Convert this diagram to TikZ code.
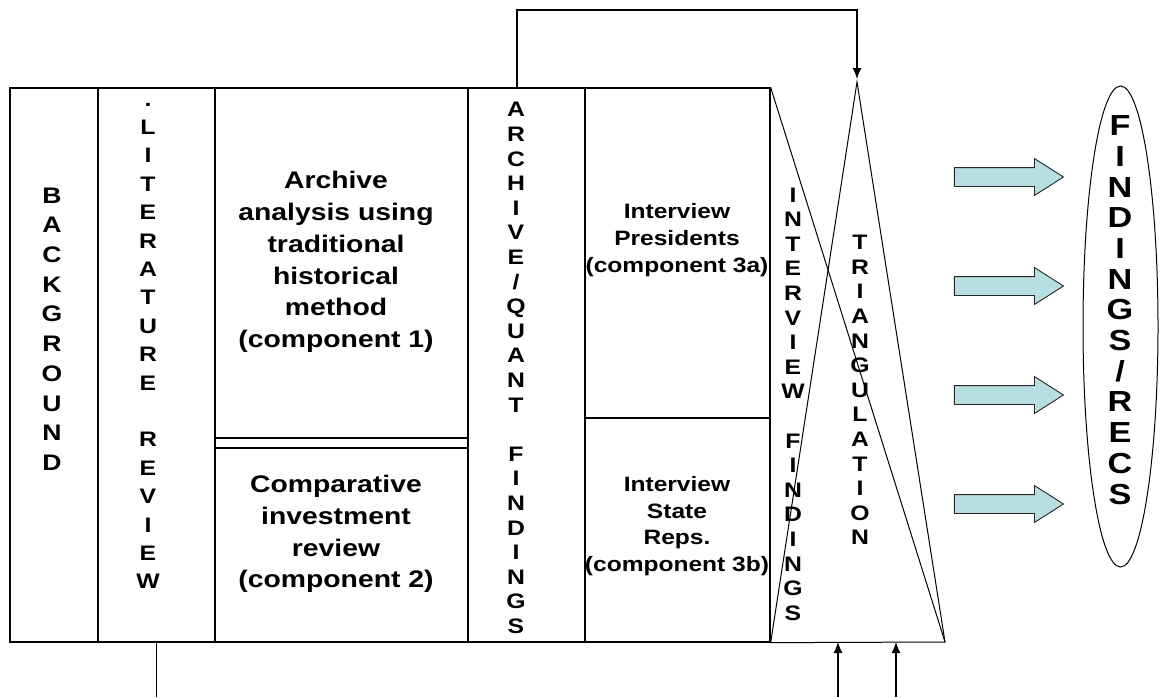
\documentclass[tikz,border=0pt]{standalone}
\usepackage{fontspec}
\setmainfont{Liberation Sans}[FakeStretch=1.18]
\usetikzlibrary{shapes.geometric,shapes.arrows,arrows.meta,positioning}
\definecolor{arrowblue}{RGB}{183,222,224}

\tikzset{
  box/.style={draw, line width=1.3pt, inner sep=0pt},
  link/.style={line width=1.2pt},
  thinline/.style={line width=1pt},
  letters/.style={align=center, inner sep=0pt, font=\bfseries\fontsize{21}{24.6}\selectfont},
  boxtext/.style={align=center, inner sep=0pt, font=\bfseries\fontsize{24}{31.7}\selectfont},
  smalltext/.style={align=center, inner sep=0pt, font=\bfseries\fontsize{20.8}{26.7}\selectfont},
  fatarrow/.style={single arrow, draw=black!85, line width=0.9pt, fill=arrowblue,
    minimum height=109pt, inner xsep=0pt, inner ysep=9pt, single arrow head extend=9pt,
    single arrow tip angle=65},
  tip/.style={-{Latex[length=11pt,width=9pt]}}
}

\begin{document}
\begin{tikzpicture}[x=1pt,y=-1pt]
    \useasboundingbox (0,0) rectangle (1161,697);

    % Columns
    \node[box, minimum width=88pt, minimum height=554pt] (bg) at (54,365) {};
    \node[box, minimum width=117pt, minimum height=554pt] (lit) at (156.5,365) {};
    \node[box, minimum width=253pt, minimum height=350pt] (comp1) at (341.5,263) {};
    \node[box, minimum width=253pt, minimum height=194pt] (comp2) at (341.5,545) {};
    \node[box, minimum width=117pt, minimum height=554pt] (arch) at (526.5,365) {};
    \node[box, minimum width=185pt, minimum height=330pt] (pres) at (677.5,253) {};
    \node[box, minimum width=185pt, minimum height=224pt] (reps) at (677.5,530) {};

    % Texts of the columns
    \node[letters, font=\bfseries\fontsize{22.5}{29.7}\selectfont] (bgtext) at (52,329)
        {B\\A\\C\\K\\G\\R\\O\\U\\N\\D};
    \node[letters, font=\bfseries\fontsize{21}{28.4}\selectfont] (littext) at (148,346)
        {.\\L\\I\\T\\E\\R\\A\\T\\U\\R\\E\\~\\R\\E\\V\\I\\E\\W};
    \node[boxtext] (comp1text) at (336,262)
        {Archive\\analysis using\\traditional\\historical\\method\\(component 1)};
    \node[boxtext] (comp2text) at (336,534)
        {Comparative\\investment\\review\\(component 2)};
    \node[letters] (archtext) at (516,368)
        {A\\R\\C\\H\\I\\V\\E\\/\\Q\\U\\A\\N\\T\\~\\F\\I\\N\\D\\I\\N\\G\\S};
    \node[smalltext] (prestext) at (677,240)
        {Interview\\Presidents\\(component 3a)};
    \node[smalltext] (repstext) at (677,526)
        {Interview\\State\\Reps.\\(component 3b)};

    % Triangulation
    \coordinate (apex) at (857,82);
    \coordinate (br) at (945,642);
    \draw[thinline] (reps.south east) -- (apex) -- (br) -- cycle;
    \draw[thinline] (pres.north east) -- (br);
    \node[letters] (inttext) at (793,404)
        {I\\N\\T\\E\\R\\V\\I\\E\\W\\~\\F\\I\\N\\D\\I\\N\\G\\S};
    \node[letters] (tritext) at (860,390)
        {T\\R\\I\\A\\N\\G\\U\\L\\A\\T\\I\\O\\N};

    % Loop from the archive findings to the apex
    \coordinate (turn) at (857,10);
    \draw[link, tip, shorten >=3pt] ([xshift=-9.5pt]arch.north) |- (turn) -- (apex);

    % Lines at the bottom
    \coordinate (litend) at (156.5,697);
    \coordinate (inA) at (838,697);
    \coordinate (inB) at (896,697);
    \draw[link] (lit.south) -- (litend);
    \draw[link, tip] (inA) -- (inA |- br);
    \draw[link, tip] (inB) -- (inB |- br);

    % Findings and recommendations
    \foreach \y [count=\i] in {177,286,395,504}
        \node[fatarrow] (push\i) at (1001.5,\y) {};
    \node[ellipse, draw, line width=1pt, minimum width=75pt, minimum height=481pt,
        inner sep=0pt] (recs) at (1120.5,326.5) {};
    \node[letters, font=\bfseries\fontsize{29}{30.7}\selectfont] (recstext) at (1120,310)
        {F\\I\\N\\D\\I\\N\\G\\S\\/\\R\\E\\C\\S};
\end{tikzpicture}
\end{document}
